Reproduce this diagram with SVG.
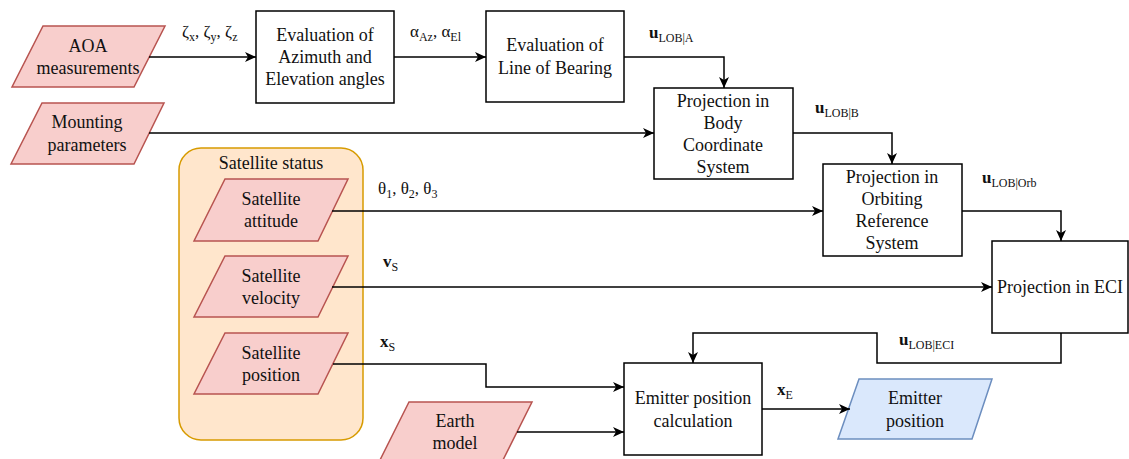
<svg xmlns="http://www.w3.org/2000/svg" width="1129" height="459" viewBox="0 0 1129 459" font-family="'Liberation Serif', 'DejaVu Serif', serif">
  <style>
    text { font-family: 'Liberation Serif', 'DejaVu Serif', serif; fill: #111; }
    .t { font-size: 18px; text-anchor: middle; }
    .lbl { font-size: 17px; }
    .sub { font-size: 12px; }
    .box { fill: #ffffff; stroke: #000; stroke-width: 1.5; }
    .data { fill: #f8cecc; stroke: #b85450; stroke-width: 1.5; }
    .out { fill: #dae8fc; stroke: #6c8ebf; stroke-width: 1.5; }
    .group { fill: #ffe6cc; stroke: #d79b00; stroke-width: 1.5; }
    .edge { fill: none; stroke: #000; stroke-width: 1.5; marker-end: url(#arrow); }
  </style>
  <defs>
    <marker id="arrow" markerUnits="userSpaceOnUse" markerWidth="12" markerHeight="10" refX="11" refY="5" orient="auto">
      <path d="M0,0 L11,5 L0,10 L3,5 Z" fill="#000"/>
    </marker>
  </defs>

  <!-- satellite status container -->
  <g id="satellite-status">
    <rect class="group" x="179" y="148" width="184" height="292" rx="22" ry="22"/>
    <text class="t" x="271" y="169">Satellite status</text>
  </g>

  <!-- inputs -->
  <g id="aoa-measurements">
    <polygon class="data" points="43,26 165,26 134,87 12,87"/>
    <text class="t" x="88" y="52">AOA</text>
    <text class="t" x="88" y="74">measurements</text>
  </g>
  <g id="mounting-parameters">
    <polygon class="data" points="42,103 164,103 134,164 11,164"/>
    <text class="t" x="87" y="128">Mounting</text>
    <text class="t" x="87" y="151">parameters</text>
  </g>
  <g id="satellite-attitude">
    <polygon class="data" points="225,179 348,179 318,241 194,241"/>
    <text class="t" x="271" y="205">Satellite</text>
    <text class="t" x="271" y="227">attitude</text>
  </g>
  <g id="satellite-velocity">
    <polygon class="data" points="225,256 348,256 318,317 194,317"/>
    <text class="t" x="271" y="282">Satellite</text>
    <text class="t" x="271" y="304">velocity</text>
  </g>
  <g id="satellite-position">
    <polygon class="data" points="225,333 348,333 318,394 194,394"/>
    <text class="t" x="271" y="359">Satellite</text>
    <text class="t" x="271" y="381">position</text>
  </g>
  <g id="earth-model">
    <polygon class="data" points="409,402 532,402 501,464 378,464"/>
    <text class="t" x="455" y="427">Earth</text>
    <text class="t" x="455" y="449">model</text>
  </g>

  <!-- processing steps -->
  <g id="eval-az-el">
    <rect class="box" x="256" y="11" width="138" height="92"/>
    <text class="t" x="325" y="41">Evaluation of</text>
    <text class="t" x="325" y="63">Azimuth and</text>
    <text class="t" x="325" y="85">Elevation angles</text>
  </g>
  <g id="eval-lob">
    <rect class="box" x="486" y="11" width="138" height="91"/>
    <text class="t" x="555" y="51">Evaluation of</text>
    <text class="t" x="555" y="74">Line of Bearing</text>
  </g>
  <g id="proj-body">
    <rect class="box" x="654" y="88" width="139" height="91"/>
    <text class="t" x="723" y="107">Projection in</text>
    <text class="t" x="723" y="129">Body</text>
    <text class="t" x="723" y="151">Coordinate</text>
    <text class="t" x="723" y="173">System</text>
  </g>
  <g id="proj-orbiting">
    <rect class="box" x="823" y="164" width="139" height="92"/>
    <text class="t" x="892" y="183">Projection in</text>
    <text class="t" x="892" y="205">Orbiting</text>
    <text class="t" x="892" y="227">Reference</text>
    <text class="t" x="892" y="249">System</text>
  </g>
  <g id="proj-eci">
    <rect class="box" x="992" y="241" width="136" height="92"/>
    <text class="t" x="1060" y="293">Projection in ECI</text>
  </g>
  <g id="emitter-calc">
    <rect class="box" x="624" y="363" width="138" height="92"/>
    <text class="t" x="693" y="404">Emitter position</text>
    <text class="t" x="693" y="427">calculation</text>
  </g>

  <!-- output -->
  <g id="emitter-position">
    <polygon class="out" points="859,379 992,379 972,439 838,439"/>
    <text class="t" x="915" y="404">Emitter</text>
    <text class="t" x="915" y="427">position</text>
  </g>

  <!-- connectors -->
  <g id="connectors">
    <path class="edge" d="M149,57 H256"/>
    <path class="edge" d="M394,57 H486"/>
    <path class="edge" d="M624,57 H724 V88"/>
    <path class="edge" d="M149,133 H654"/>
    <path class="edge" d="M793,133 H892 V164"/>
    <path class="edge" d="M332,211 H823"/>
    <path class="edge" d="M962,211 H1061 V241"/>
    <path class="edge" d="M332,287 H992"/>
    <path class="edge" d="M1061,333 V363 H877 V333 H693 V363"/>
    <path class="edge" d="M333,364 H486 V387 H624"/>
    <path class="edge" d="M517,432 H624"/>
    <path class="edge" d="M762,409 H850"/>
  </g>

  <!-- connector labels -->
  <g id="edge-labels">
    <text class="lbl" x="182" y="37">ζ<tspan class="sub" dy="4">x</tspan><tspan dy="-4">, ζ</tspan><tspan class="sub" dy="4">y</tspan><tspan dy="-4">, ζ</tspan><tspan class="sub" dy="4">z</tspan></text>
    <text class="lbl" x="410" y="37">α<tspan class="sub" dy="4">Az</tspan><tspan dy="-4">, α</tspan><tspan class="sub" dy="4">El</tspan></text>
    <text class="lbl" x="649" y="38"><tspan font-weight="bold">u</tspan><tspan class="sub" font-size="13" dy="4">LOB|A</tspan></text>
    <text class="lbl" x="815" y="113"><tspan font-weight="bold">u</tspan><tspan class="sub" font-size="13" dy="4">LOB|B</tspan></text>
    <text class="lbl" x="982" y="183"><tspan font-weight="bold">u</tspan><tspan class="sub" font-size="13" dy="4">LOB|Orb</tspan></text>
    <text class="lbl" x="378" y="194">θ<tspan class="sub" dy="4">1</tspan><tspan dy="-4">, θ</tspan><tspan class="sub" dy="4">2</tspan><tspan dy="-4">, θ</tspan><tspan class="sub" dy="4">3</tspan></text>
    <text class="lbl" x="383" y="267"><tspan font-weight="bold">v</tspan><tspan class="sub" font-size="13" dy="4">S</tspan></text>
    <text class="lbl" x="899" y="345"><tspan font-weight="bold">u</tspan><tspan class="sub" font-size="13" dy="4">LOB|ECI</tspan></text>
    <text class="lbl" x="380" y="347"><tspan font-weight="bold">x</tspan><tspan class="sub" font-size="13" dy="4">S</tspan></text>
    <text class="lbl" x="777" y="395"><tspan font-weight="bold">x</tspan><tspan class="sub" font-size="13" dy="4">E</tspan></text>
  </g>
</svg>
